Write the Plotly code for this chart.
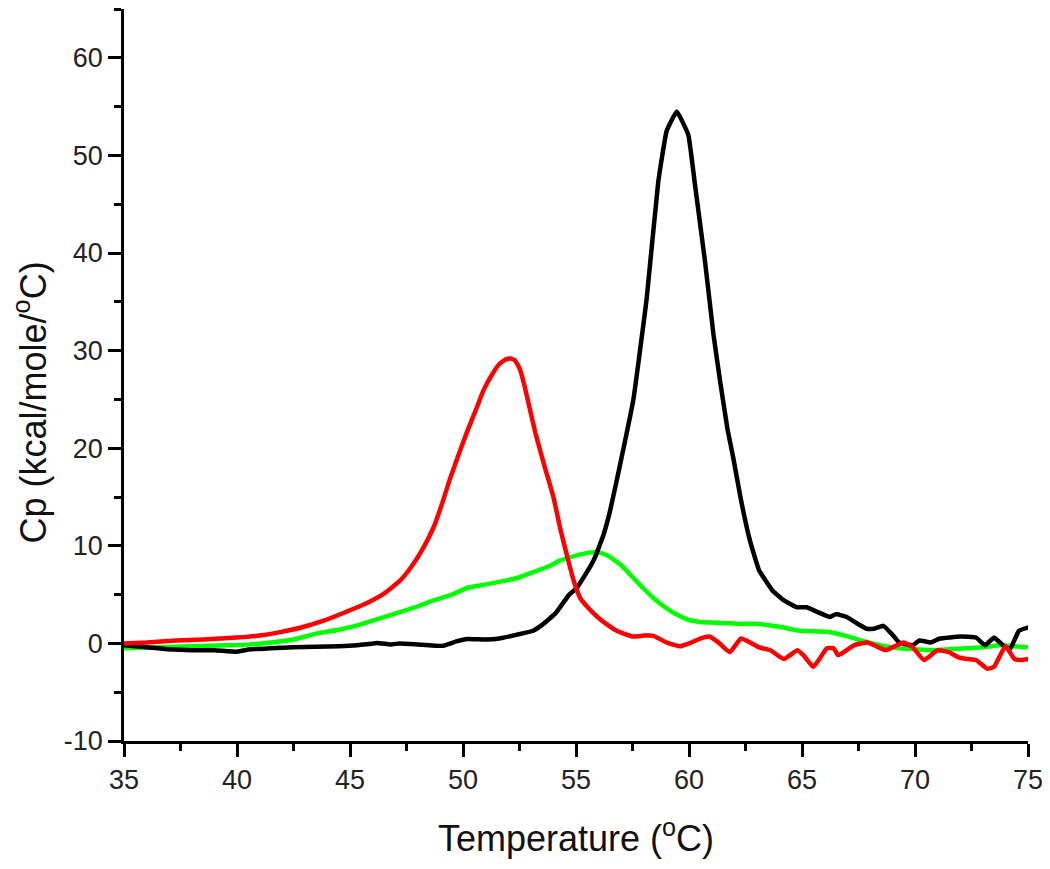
import plotly.graph_objects as go

# Black curve
black_x = [35.0, 36.0, 36.9, 38.0, 39.0, 40.0, 40.6, 41.5, 42.5, 43.5, 44.5, 45.3, 46.2, 46.8, 47.2,
           48.0, 49.1, 49.7, 50.2, 51.0, 51.6, 52.4, 53.1, 53.5, 54.1, 54.7, 55.0, 55.4, 55.8, 56.2,
           56.5, 56.95, 57.54, 58.13, 58.64, 59.01, 59.46, 59.97, 60.27, 60.71, 61.08, 61.4, 61.7,
           61.96, 62.3, 62.7, 63.1, 63.7, 64.2, 64.77, 65.2, 65.7, 66.24, 66.5, 66.98, 67.4, 67.86,
           68.2, 68.6, 69.0, 69.3, 69.9, 70.2, 70.7, 71.1, 72.0, 72.7, 73.1, 73.5, 73.9, 74.2, 74.6, 75.1]
black_y = [-0.2, -0.4, -0.6, -0.7, -0.7, -0.85, -0.6, -0.5, -0.4, -0.35, -0.3, -0.2, 0.05, -0.1, 0.0,
           -0.1, -0.25, 0.2, 0.45, 0.4, 0.5, 0.9, 1.3, 1.9, 3.1, 5.0, 5.6, 7.0, 8.6, 11.0,
           13.5, 18.3, 25.0, 35.4, 47.3, 52.5, 54.5, 52.1, 46.9, 39.1, 31.7, 26.5, 22.0,
           19.0, 14.7, 10.5, 7.5, 5.4, 4.4, 3.7, 3.7, 3.2, 2.7, 3.0, 2.7, 2.1, 1.5,
           1.5, 1.8, 0.9, 0.1, -0.2, 0.3, 0.1, 0.5, 0.7, 0.6, -0.2, 0.6, -0.2, -0.6, 1.3, 1.7]

# Green curve
green_x = [35.0, 36.5, 38.0, 39.5, 40.6, 41.5, 42.5, 43.5, 44.5, 45.4, 46.5, 47.2, 48.0, 48.7, 49.5,
           50.2, 50.9, 51.6, 52.4, 53.1, 53.8, 54.3, 55.0, 55.6, 56.0, 56.4, 57.0, 57.5, 58.0, 58.4,
           59.0, 59.5, 60.0, 60.5, 61.5, 62.3, 63.1, 64.0, 64.9, 66.1, 66.9, 67.6, 68.5, 69.3, 70.0,
           70.8, 71.5, 72.3, 73.0, 73.8, 74.4, 75.0]
green_y = [-0.5, -0.4, -0.3, -0.2, -0.1, 0.1, 0.4, 1.0, 1.4, 1.9, 2.7, 3.2, 3.8, 4.4, 5.0,
           5.7, 6.0, 6.3, 6.7, 7.3, 7.9, 8.5, 9.0, 9.3, 9.3, 9.0, 8.0, 6.8, 5.6, 4.7,
           3.6, 2.9, 2.4, 2.2, 2.1, 2.0, 2.0, 1.7, 1.3, 1.2, 0.8, 0.3, -0.2, -0.5, -0.6,
           -0.7, -0.6, -0.5, -0.4, -0.2, -0.3, -0.4]

# Red curve
red_x = [35.0, 36.0, 37.3, 38.5, 40.0, 41.0, 41.8, 42.8, 43.8, 45.0, 45.8, 46.5, 47.2, 47.7, 48.2,
         48.7, 49.1, 49.4, 49.8, 50.2, 50.6, 50.9, 51.3, 51.6, 51.9, 52.1, 52.3, 52.5, 52.7, 52.9,
         53.2, 53.6, 54.0, 54.3, 54.6, 54.9, 55.2, 55.6, 56.0, 56.4, 56.8, 57.5, 58.0, 58.4, 59.0,
         59.6, 60.0, 60.5, 60.9, 61.3, 61.8, 62.3, 62.7, 63.1, 63.6, 64.2, 64.8, 65.1, 65.5, 65.8,
         66.1, 66.4, 66.6, 67.3, 67.9, 68.3, 68.7, 69.1, 69.5, 69.9, 70.4, 71.0, 71.5, 71.9, 72.3,
         72.7, 73.2, 73.5, 74.0, 74.4, 74.7, 75.1]
red_y = [0.0, 0.1, 0.3, 0.4, 0.6, 0.8, 1.1, 1.6, 2.3, 3.4, 4.2, 5.1, 6.4, 7.8, 9.6,
         11.9, 14.5, 16.7, 19.3, 21.8, 24.1, 25.9, 27.6, 28.6, 29.1, 29.2, 29.0, 28.2, 26.6, 24.6,
         21.6, 18.2, 15.0, 11.8, 9.0, 6.4, 4.6, 3.5, 2.6, 1.9, 1.3, 0.7, 0.8, 0.8, 0.1,
         -0.3, 0.0, 0.5, 0.7, 0.1, -0.9, 0.5, 0.1, -0.4, -0.7, -1.6, -0.7, -1.3, -2.4, -1.5,
         -0.5, -0.5, -1.2, -0.2, 0.1, -0.3, -0.7, -0.3, 0.1, -0.4, -1.7, -0.7, -0.9, -1.4, -1.6,
         -1.7, -2.6, -2.4, -0.3, -1.6, -1.7, -1.6]

x_ticks = [35, 40, 45, 50, 55, 60, 65, 70, 75]
y_ticks = [-10, 0, 10, 20, 30, 40, 50, 60]

FONT = "Liberation Sans, Arial, sans-serif"

fig = go.Figure()
fig.add_trace(go.Scatter(x=green_x, y=green_y, mode="lines",
                         line=dict(color="#00ff00", width=4.5, shape="spline", smoothing=0.5)))
fig.add_trace(go.Scatter(x=black_x, y=black_y, mode="lines",
                         line=dict(color="#000000", width=4.5, shape="spline", smoothing=0.3)))
fig.add_trace(go.Scatter(x=red_x, y=red_y, mode="lines",
                         line=dict(color="#ff0000", width=4.5, shape="spline", smoothing=0.4)))

axis_common = dict(
    showline=True, linecolor="black", linewidth=2.5,
    ticks="outside", ticklen=13, tickwidth=2.5, tickcolor="black",
    showgrid=False, zeroline=False, mirror=False, automargin=False,
    tickfont=dict(family=FONT, size=27, color="#222"),
)

fig.update_xaxes(
    range=[35, 75], tickvals=x_ticks, ticktext=[str(v) for v in x_ticks],
    minor=dict(dtick=2.5, tick0=35, ticklen=7, tickwidth=2.5, tickcolor="black", ticks="outside"),
    title=dict(text="Temperature (<sup>o</sup>C)", font=dict(family=FONT, size=36, color="#111"), standoff=32),
    **axis_common,
)
fig.update_yaxes(
    range=[-10, 65], tickvals=y_ticks, ticktext=[str(v) for v in y_ticks],
    minor=dict(dtick=5, tick0=0, ticklen=7, tickwidth=2.5, tickcolor="black", ticks="outside"),
    **axis_common,
)

fig.add_annotation(
    text="Cp (kcal/mole/<sup>o</sup>C)", textangle=-90,
    xref="paper", yref="paper", x=-0.1035, y=0.4631,
    xanchor="center", yanchor="middle", showarrow=False,
    font=dict(family=FONT, size=36, color="#111"),
)

fig.update_layout(
    width=1050, height=869,
    margin=dict(l=116, r=30, t=1, b=136),
    plot_bgcolor="white", paper_bgcolor="white",
    showlegend=False,
)

fig.write_html("out.html")
